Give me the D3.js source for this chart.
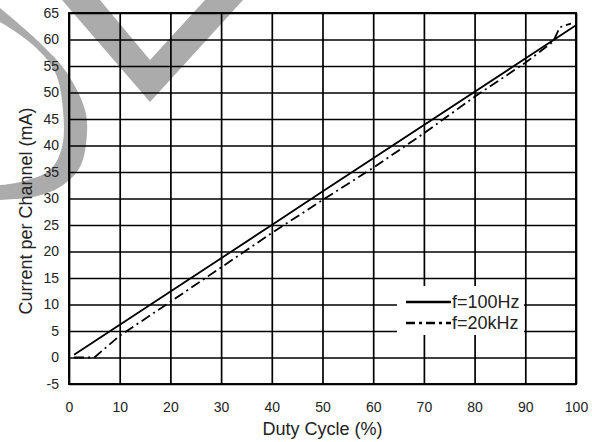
<!DOCTYPE html>
<html>
<head>
<meta charset="utf-8">
<script src="https://cdn.jsdelivr.net/npm/d3@7"></script>
<style>
  body { margin: 0; background: #fff; }
  svg { display: block; font-family: "Liberation Sans", Arial, sans-serif; }
</style>
</head>
<body>
<div id="chart"></div>
<script>
// values
const xTicks = [0, 10, 20, 30, 40, 50, 60, 70, 80, 90, 100];
const yTicks = [-5, 0, 5, 10, 15, 20, 25, 30, 35, 40, 45, 50, 55, 60, 65];

const duty100Hz = [1, 40, 50, 90, 100];
const current100Hz = [0.5, 25, 31.3, 56.4, 62.7];

const duty20kHz = [1, 5, 10, 20, 30, 40, 50, 60, 70, 80, 90, 95.5, 96.8, 99];
const current20kHz = [0, 0, 4.1, 10.5, 17, 23.5, 29.7, 35.8, 42.3, 49.2, 55.6, 59.6, 62.3, 63];

const seriesNames = ["f=100Hz", "f=20kHz"];

const width = 592, height = 442;
const margin = { left: 69, right: 16, top: 13, bottom: 58 };

const svg = d3.select("#chart").append("svg")
  .attr("width", width)
  .attr("height", height);

// grey watermark behind the chart
const wm = svg.append("g").attr("fill", "#ababab");
wm.append("path")
  .attr("d", d3.line().curve(d3.curveCatmullRom)([
    [-10, 0], [0, 8], [40, 43], [67, 73], [85, 110], [87, 133], [80, 167], [60, 187], [33, 197], [0, 200], [-10, 201]
  ]) + "L" + d3.line().curve(d3.curveCatmullRom)([
    [-10, 185], [0, 185], [20, 182], [50, 170], [62, 147], [63, 110], [55, 72], [33, 45], [0, 22], [-10, 17]
  ]).slice(1) + "Z");
wm.append("path")
  .attr("d", "M62,0L100,0L150,60L205,0L243,0L150,102Z");

const x = d3.scaleLinear()
  .domain([0, 100])
  .range([margin.left, width - margin.right]);

const y = d3.scaleLinear()
  .domain([-5, 65])
  .range([height - margin.bottom, margin.top]);

const plotW = x.range()[1] - x.range()[0];
const plotH = y.range()[0] - y.range()[1];

// X grid + labels
const xAxis = svg.append("g")
  .attr("transform", `translate(0, ${y(-5)})`)
  .call(d3.axisBottom(x).tickValues(xTicks).tickSize(-plotH).tickPadding(18).tickFormat(d => String(d)));

// Y grid + labels
const yAxis = svg.append("g")
  .attr("transform", `translate(${x(0)}, 0)`)
  .call(d3.axisLeft(y).tickValues(yTicks).tickSize(-plotW).tickPadding(10).tickFormat(d => String(d)));

[xAxis, yAxis].forEach(g => {
  g.select(".domain").remove();
  g.selectAll(".tick line").attr("stroke", "#000").attr("stroke-width", 1.7);
  g.selectAll(".tick text")
    .attr("fill", "#222")
    .attr("font-size", "14px")
    .attr("font-family", "Liberation Sans, Arial, sans-serif");
});

// plot border
svg.append("rect")
  .attr("x", x(0))
  .attr("y", y(65))
  .attr("width", plotW)
  .attr("height", plotH)
  .attr("fill", "none")
  .attr("stroke", "#000")
  .attr("stroke-width", 1.9);

// curves
const line = d3.line()
  .x(d => x(d[0]))
  .y(d => y(d[1]));

svg.append("path")
  .datum(duty100Hz.map((d, i) => [d, current100Hz[i]]))
  .attr("d", line)
  .attr("fill", "none")
  .attr("stroke", "#000")
  .attr("stroke-width", 1.8);

svg.append("path")
  .datum(duty20kHz.map((d, i) => [d, current20kHz[i]]))
  .attr("d", line)
  .attr("fill", "none")
  .attr("stroke", "#000")
  .attr("stroke-width", 1.8)
  .attr("stroke-dasharray", "10,4,2,4");

// legend
svg.append("rect")
  .attr("x", 397)
  .attr("y", 286)
  .attr("width", 127)
  .attr("height", 49)
  .attr("fill", "#fff");

const legend = svg.append("g").attr("transform", "translate(406, 302)");
seriesNames.forEach((name, i) => {
  const row = legend.append("g").attr("transform", `translate(0, ${i * 21})`);
  row.append("line")
    .attr("x1", 0).attr("x2", 45)
    .attr("stroke", "#000")
    .attr("stroke-width", 2.5)
    .attr("stroke-dasharray", i === 1 ? "9,4,3,4" : null);
  row.append("text")
    .attr("x", 46)
    .attr("y", 6)
    .attr("font-size", "18px")
    .attr("fill", "#222")
    .text(name);
});

// axis titles
svg.append("text")
  .attr("x", (x(0) + x(100)) / 2)
  .attr("y", 435)
  .attr("text-anchor", "middle")
  .attr("font-size", "18px")
  .attr("fill", "#222")
  .text("Duty Cycle (%)");

svg.append("text")
  .attr("transform", "translate(32, 211) rotate(-90)")
  .attr("text-anchor", "middle")
  .attr("font-size", "18px")
  .attr("fill", "#222")
  .text("Current per Channel (mA)");
</script>
</body>
</html>
